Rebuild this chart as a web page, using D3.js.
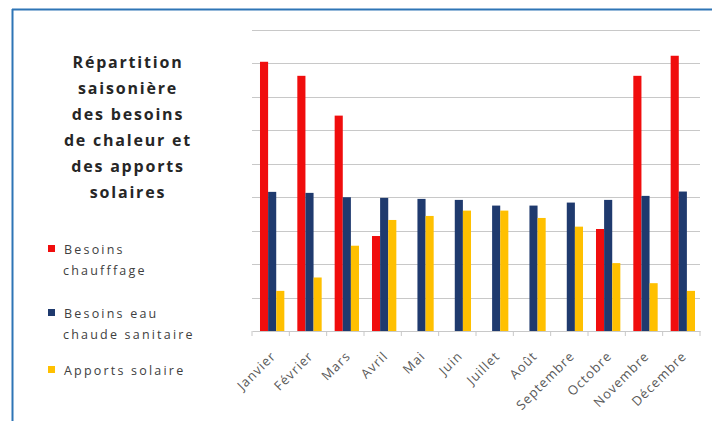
<!DOCTYPE html>
<html><head><meta charset="utf-8">
<script src="https://cdn.jsdelivr.net/npm/d3@7"></script>
<style>body{margin:0;background:#fff}svg{display:block}</style>
</head><body>
<svg id="c" width="712" height="421"></svg>
<script>
const months = ["Janvier","Février","Mars","Avril","Mai","Juin","Juillet","Août","Septembre","Octobre","Novembre","Décembre"];
const seriesNames = ["Besoins chaufffage","Besoins eau chaude sanitaire","Apports solaire"];
const chauffage = [8.05,7.63,6.44,2.84,0,0,0,0,0,3.05,7.63,8.23];
const eauChaude = [4.16,4.13,4.0,3.98,3.95,3.92,3.75,3.75,3.84,3.92,4.04,4.17];
const solaire   = [1.2,1.6,2.55,3.32,3.44,3.6,3.6,3.38,3.12,2.03,1.43,1.2];
const yTicks = [1,2,3,4,5,6,7,8,9];
const colors = ["#f00d0d","#1f3a6e","#ffc000"];
const titleLines = ["Répartition","saisonière","des besoins","de chaleur et","des apports","solaires"];
const legendLines = [["Besoins","chaufffage"],["Besoins eau","chaude sanitaire"],["Apports solaire"]];

const svg = d3.select("#c");
// frame
svg.append("line").attr("x1",12).attr("x2",712).attr("y1",9.5).attr("y2",9.5).attr("stroke","#2e75b6").attr("stroke-width",2);
svg.append("line").attr("x1",12.5).attr("x2",12.5).attr("y1",9).attr("y2",421).attr("stroke","#2e75b6").attr("stroke-width",2);

const x = d3.scaleBand().domain(months).range([252,700]);
const x1 = d3.scaleBand().domain(seriesNames).range([0,x.bandwidth()]).paddingOuter(0.8);
const y = d3.scaleLinear().domain([0,9]).range([331,30]);

// gridlines
svg.append("g").selectAll("line").data(yTicks).join("line")
  .attr("x1",252).attr("x2",700).attr("y1",d=>Math.round(y(d))+0.5).attr("y2",d=>Math.round(y(d))+0.5)
  .attr("stroke","#c8c8c8").attr("stroke-width",1.2);

const data = [chauffage,eauChaude,solaire];
const g = svg.append("g");
months.forEach((m,i)=>{
  seriesNames.forEach((s,j)=>{
    const v = data[j][i];
    if(v>0) g.append("rect").attr("x",x(m)+x1(s)+1.5).attr("width",x1.bandwidth())
      .attr("y",y(v)).attr("height",y(0)-y(v)).attr("fill",colors[j]);
  });
});

// x axis
const xa = svg.append("g").attr("transform","translate(0,331)").call(d3.axisBottom(x).tickSize(0).tickFormat(""));
xa.select(".domain").attr("stroke","#c8c8c8").attr("stroke-width",1.2);
svg.append("g").selectAll("line").data(d3.range(13)).join("line")
  .attr("x1",i=>252+i*x.step()).attr("x2",i=>252+i*x.step()).attr("y1",331).attr("y2",336).attr("stroke","#c8c8c8");
svg.append("g").selectAll("text").data(months).join("text")
  .attr("transform",m=>`translate(${x(m)+x.bandwidth()/2+6},357) rotate(-45)`)
  .attr("text-anchor","end").attr("font-family","Open Sans, sans-serif").attr("font-size",13)
  .attr("letter-spacing",1).attr("fill","#595959").text(d=>d);

// title
svg.append("g").selectAll("text").data(titleLines).join("text")
  .attr("x",128).attr("y",(d,i)=>68+i*26).attr("text-anchor","middle")
  .attr("font-family","Open Sans, sans-serif").attr("font-weight","bold").attr("font-size",16)
  .attr("letter-spacing",1.8).attr("fill","#262626").text(d=>d);

// legend
const legY = [249,313,370];
legendLines.forEach((lines,i)=>{
  svg.append("rect").attr("x",48).attr("y",legY[i]-4).attr("width",7).attr("height",7).attr("fill",colors[i]);
  lines.forEach((t,k)=>{
    svg.append("text").attr("x",k==0?64:63).attr("y",legY[i]+5+k*21)
      .attr("font-family","Open Sans, sans-serif").attr("font-size",12.5).attr("letter-spacing",2.2)
      .attr("fill","#404040").text(t);
  });
});
</script>
</body></html>
